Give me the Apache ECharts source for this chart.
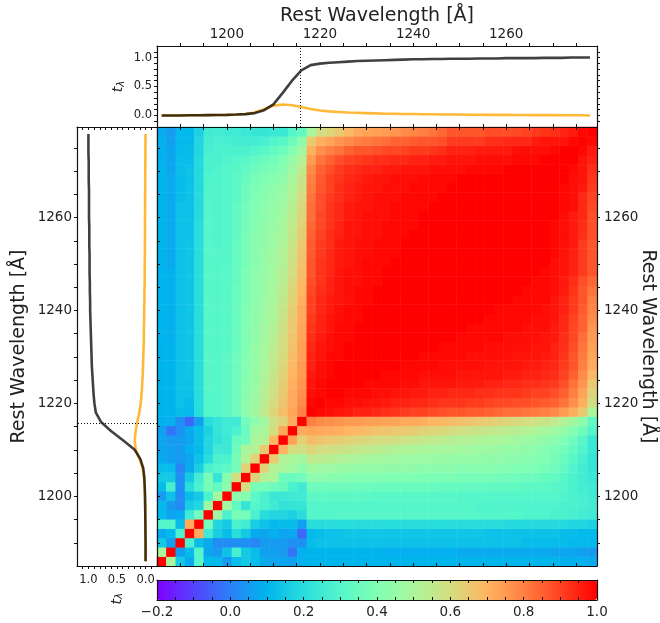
<!DOCTYPE html>
<html><head><meta charset="utf-8">
<style>html,body{margin:0;padding:0;background:#fff}#c{width:660px;height:623px}</style>
<script src="https://cdn.jsdelivr.net/npm/echarts@6/dist/echarts.min.js"></script>
</head><body><div id="c"></div>
<script>
// Pixel wavelengths (Angstrom), one per row/column of the matrix
const waves = [1186,1188,1190,1192,1194,1196,1198,1200,1202,1204,1206,1208,1210,1212,1214,1216,1218,1220,1222,1224,1226,1228,1230,1232,1234,1236,1238,1240,1242,1244,1246,1248,1250,1252,1254,1256,1258,1260,1262,1264,1266,1268,1270,1272,1274,1276,1278];
// Mean transmission and its companion curve at each wavelength
const meanCurve = [0,0,0,.002,.003,.005,.007,.01,.015,.022,.04,.09,.19,.39,.6,.78,.87,.895,.91,.92,.93,.94,.945,.95,.955,.96,.965,.97,.97,.975,.975,.98,.98,.98,.985,.985,.985,.99,.99,.99,.99,.995,.995,.995,1,1,1];
const orangeCurve = [0,0,0,.002,.003,.005,.007,.01,.015,.025,.05,.105,.17,.19,.175,.145,.11,.085,.07,.06,.05,.045,.04,.035,.03,.03,.025,.025,.02,.02,.015,.015,.015,.012,.012,.01,.01,.01,.008,.008,.006,.006,.005,.004,.003,.002,0];
const lyaLine = 1215.67;
// Correlation matrix in percent (symmetric). lowerBlock: rows 0..15, columns 0..row
const lowerBlock = [
[100],
[50,100],
[15,6,100],
[8,11,28,100],
[30,30,12,72,100],
[11,7,8,25,37,100],
[11,5,2,16,18,47,100],
[5,13,2,12,15,28,48,100],
[12,27,3,20,28,38,33,43,100],
[15,15,3,15,26,38,23,42,60,100],
[12,12,1,8,16,28,30,32,38,63,100],
[8,6,5,7,13,20,28,28,38,52,63,100],
[7,6,5,9,11,18,25,24,36,50,52,65,100],
[7,5,5,7,12,18,22,24,34,36,50,52,70,100],
[6,-2,3,8,12,17,23,25,28,35,48,50,60,73,100],
[9,9,3,-4,6,20,23,25,25,37,43,48,59,63,72,100]];
// crossBlock: rows 0..15, columns 16..46
const crossBlock = [
[10,10,10,10,10,10,10,10,10,10,10,10,10,10,10,10,10,10,10,10,10,10,10,10,10,10,10,9,9,9,8],
[10,10,10,10,10,10,10,10,9,9,9,9,9,9,9,9,8,8,8,8,8,8,8,8,8,8,7,7,7,6,5],
[12,13,13,13,13,13,13,13,13,13,13,13,13,13,13,13,13,13,13,13,13,13,13,12,12,12,12,12,11,11,11],
[11,12,13,13,14,14,14,14,14,14,14,14,14,14,14,14,14,14,14,13,13,13,13,13,13,13,13,12,12,11,11],
[20,20,20,20,20,20,20,20,20,20,20,20,20,20,20,20,20,20,20,20,20,19,19,19,19,19,19,19,18,18,17],
[30,30,30,31,31,31,31,31,31,31,31,31,31,31,31,31,31,31,30,30,30,30,30,29,29,29,28,28,27,26,25],
[30,30,30,30,30,30,30,30,30,30,30,30,30,30,30,30,30,30,29,29,29,29,29,29,29,29,29,28,28,27,26],
[32,32,32,32,32,32,32,31,31,31,31,31,31,31,31,31,30,30,30,30,30,30,30,30,30,30,30,29,28,27,25],
[36,36,36,36,36,36,36,35,35,35,35,35,35,35,34,34,34,34,34,33,33,33,33,32,32,32,31,30,28,26,25],
[43,43,42,42,41,41,41,40,40,40,40,40,39,39,39,39,38,38,38,38,37,37,37,36,36,34,33,31,28,26,24],
[48,47,47,46,46,45,45,45,44,44,44,44,43,43,43,43,42,42,42,42,41,41,40,40,39,38,36,33,29,26,23],
[55,54,53,52,51,50,49,49,48,48,47,47,47,46,46,45,45,45,44,44,44,43,43,42,41,40,38,35,31,27,23],
[62,60,59,58,57,56,55,54,53,52,51,51,50,50,49,49,48,48,47,47,46,45,45,44,43,41,39,37,33,29,24],
[68,66,65,64,63,62,61,60,60,59,58,57,56,55,54,53,52,52,51,50,50,49,48,47,46,44,42,40,36,31,24],
[73,72,72,71,70,69,68,67,66,65,65,64,63,62,61,60,59,58,57,56,55,54,53,52,51,49,47,45,41,36,30],
[80,78,77,76,75,75,74,74,73,73,72,72,71,70,69,68,67,66,65,64,63,62,61,60,58,57,55,52,48,43,33]];
// upperBlock: rows 16..46, columns 16..row
const upperBlock = [
[100],
[99,100],
[98,99,100],
[97,99,100,100],
[96,98,99,100,100],
[95,98,99,100,100,100],
[95,97,99,99,100,100,100],
[94,97,98,99,100,100,100,100],
[93,96,98,99,99,100,100,100,100],
[92,95,97,99,99,100,100,100,100,100],
[91,95,97,98,99,99,100,100,100,100,100],
[90,94,96,98,99,99,100,100,100,100,100,100],
[90,94,96,97,98,99,99,100,100,100,100,100,100],
[89,93,95,97,98,99,99,100,100,100,100,100,100,100],
[88,92,95,97,98,98,99,99,100,100,100,100,100,100,100],
[87,92,94,97,98,98,99,99,100,100,100,100,100,100,100,100],
[87,92,94,96,97,98,99,99,99,100,100,100,100,100,100,100,100],
[86,91,94,96,97,98,98,99,99,99,100,100,100,100,100,100,100,100],
[86,91,93,96,97,98,98,99,99,99,100,100,100,100,100,100,100,100,100],
[85,90,93,95,97,97,98,98,99,99,99,100,100,100,100,100,100,100,100,100],
[84,89,92,95,97,97,98,98,99,99,99,99,100,100,100,100,100,100,100,100,100],
[83,89,92,94,96,97,98,98,98,99,99,99,100,100,100,100,100,100,100,100,100,100],
[83,88,92,94,96,97,97,98,98,99,99,99,99,100,100,100,100,100,100,100,100,100,100],
[82,88,91,93,95,96,97,98,98,98,99,99,99,99,100,100,100,100,100,100,100,100,100,100],
[81,87,90,93,95,96,97,97,98,98,98,99,99,99,99,100,100,100,100,100,100,100,100,100,100],
[80,86,90,92,94,95,96,97,97,98,98,98,99,99,99,99,100,100,100,100,100,100,100,100,100,100],
[78,85,88,91,93,94,95,95,96,96,97,97,97,98,98,98,98,99,99,99,99,100,100,100,100,100,100],
[75,82,85,88,90,91,92,93,93,94,94,95,95,96,96,97,97,97,98,98,98,98,99,99,99,100,100,100],
[71,77,80,82,85,87,87,88,89,89,90,91,91,92,93,95,95,95,96,96,96,96,98,98,98,98,99,100,100],
[65,71,73,76,78,80,81,82,83,85,85,86,87,87,88,91,91,91,91,93,93,94,94,94,96,97,97,97,99,100],
[50,59,62,65,69,72,73,74,75,76,78,79,80,82,84,87,87,87,87,88,88,88,89,90,91,92,93,95,96,99,100]];
// Tick values and labels
const waveTicks = [1190,1195,1200,1205,1210,1215,1220,1225,1230,1235,1240,1245,1250,1255,1260,1265,1270,1275];
const waveLabels = [1200,1220,1240,1260];
const tauTicks = [-.1,0,.1,.2,.3,.4,.5,.6,.7,.8,.9,1,1.1];
const tauLabels = [0,.5,1];
const barTicks = [-.15,-.1,-.05,0,.05,.1,.15,.2,.25,.3,.35,.4,.45,.5,.55,.6,.65,.7,.75,.8,.85,.9,.95];
const barLabels = [-.2,0,.2,.4,.6,.8,1];
// matplotlib "rainbow" colormap sampled each 0.1 between -0.2 and 1.0
const rainbow = ['#7f00ff','#5542fd','#2b80f6','#00b5ec','#2adddd','#55f6ca','#80ffb4','#aaf69b','#d4dd80','#ffb562','#ff8042','#ff4221','#ff0000'];

function cellValue(a,b){
  const lo=Math.min(a,b), hi=Math.max(a,b);
  if(hi<=15) return lowerBlock[hi][lo];
  if(lo>=16) return upperBlock[hi-16][lo-16];
  return crossBlock[lo][hi-16];
}
const heatData=[];
waves.forEach((_,x)=>waves.forEach((_,y)=>heatData.push([x,y,cellValue(x,y)/100])));

const FONT='DejaVu Sans', INK='#222', WMIN=1185, WMAX=1279.5;
const TITLE=19, TICK=13.5, SMALL=11.5;
const line={lineStyle:{color:'#111',width:1.2}};
function axis(o){
  return Object.assign({
    z:6, axisLine:Object.assign({show:true,onZero:false},line),
    splitLine:{show:false},
    nameMoveOverlap:false,
    nameTextStyle:{fontFamily:FONT,color:INK,fontSize:TITLE},
    silent:true
  },o);
}
function ticks(vals,inside,len){return {show:true,inside:!!inside,length:len||3,customValues:vals,lineStyle:{color:'#111',width:1}};}
function labels(vals,size,margin,fmt,pad){
  if(!vals) return {show:false};
  return {show:true,customValues:vals,fontFamily:FONT,color:INK,fontSize:size,margin:margin,padding:pad||0,formatter:fmt||(v=>String(v)),hideOverlap:false,showMinLabel:true,showMaxLabel:true};
}
const wave=o=>axis(Object.assign({type:'value',min:WMIN,max:WMAX},o));
const tau=o=>axis(Object.assign({type:'value',min:-.2,max:1.2},o));
const tFmt=v=>v.toFixed(1);
const tName='{t|t}{l|λ}';
const tRich={t:{fontFamily:FONT,fontStyle:'italic',fontSize:14,color:INK},l:{fontFamily:FONT,fontStyle:'italic',fontSize:10,color:INK,padding:[5,0,0,0]}};
const curve={type:'line',symbol:'none',silent:true,smooth:false,z:3};
const dotted={silent:true,symbol:'none',animation:false,label:{show:false},lineStyle:{color:'#111',type:[1,2],width:1}};
const G={outerBoundsMode:'none'};
const DOWN=[6,0,0,0];

const option={
  animation:false,
  backgroundColor:'#fff',
  grid:[
    Object.assign({left:157,top:127,width:440,height:439},G),
    Object.assign({left:157,top:127,width:440,height:439},G),
    Object.assign({left:157,top:46,width:440,height:81},G),
    Object.assign({left:77,top:127,width:80,height:439},G),
    Object.assign({left:157,top:580,width:440,height:20},G)
  ],
  xAxis:[
    {gridIndex:0,type:'category',data:waves,show:false},
    wave({gridIndex:1,position:'bottom',axisTick:ticks(waveTicks,true),axisLabel:labels(null)}),
    wave({gridIndex:1,position:'top',axisTick:ticks(waveTicks,true),axisLabel:labels(null)}),
    wave({gridIndex:2,position:'top',name:'Rest Wavelength [Å]',nameLocation:'middle',nameGap:20,axisTick:ticks(waveTicks,false),axisLabel:labels(waveLabels,TICK,5)}),
    wave({gridIndex:2,position:'bottom',axisTick:ticks(waveTicks,true),axisLabel:labels(null)}),
    tau({gridIndex:3,position:'bottom',inverse:true,name:tName,nameLocation:'middle',nameGap:27,nameRotate:90,nameTextStyle:{rich:tRich},axisTick:ticks(tauTicks,false),axisLabel:labels(tauLabels,SMALL,8,tFmt)}),
    tau({gridIndex:3,position:'top',inverse:true,axisTick:ticks(tauTicks,true),axisLabel:labels(null)}),
    axis({gridIndex:4,type:'value',position:'bottom',min:-.2,max:1,axisTick:ticks(barTicks,true),axisLabel:labels(barLabels,TICK,5,v=>(v<0?'−':'')+Math.abs(v).toFixed(1))}),
    axis({gridIndex:4,type:'value',position:'top',min:-.2,max:1,axisTick:ticks(barTicks,true),axisLabel:labels(null)})
  ],
  yAxis:[
    {gridIndex:0,type:'category',data:waves,show:false},
    wave({gridIndex:1,position:'left',axisTick:ticks(waveTicks,true),axisLabel:labels(null)}),
    wave({gridIndex:1,position:'right',name:'Rest Wavelength [Å]',nameLocation:'middle',nameGap:41,nameRotate:-90,axisTick:ticks(waveTicks,false),axisLabel:labels(waveLabels,TICK,7,null,DOWN)}),
    tau({gridIndex:2,position:'left',name:tName,nameLocation:'middle',nameGap:31,nameRotate:90,nameTextStyle:{rich:tRich},axisTick:ticks(tauTicks,false),axisLabel:labels(tauLabels,SMALL,5,tFmt,DOWN)}),
    tau({gridIndex:2,position:'right',axisTick:ticks(tauTicks,false),axisLabel:labels(null)}),
    wave({gridIndex:3,position:'left',name:'Rest Wavelength [Å]',nameLocation:'middle',nameGap:48,axisTick:ticks(waveTicks,false),axisLabel:labels(waveLabels,TICK,5,null,DOWN)}),
    wave({gridIndex:3,position:'right',axisLine:{show:false},axisTick:{show:false},axisLabel:labels(null)}),
    axis({gridIndex:4,type:'value',position:'left',min:0,max:1,axisTick:{show:false},axisLabel:labels(null)}),
    axis({gridIndex:4,type:'value',position:'right',min:0,max:1,axisTick:{show:false},axisLabel:labels(null)})
  ],
  visualMap:{
    type:'continuous',seriesIndex:0,dimension:2,min:-.2,max:1,orient:'horizontal',
    left:157,top:580,itemWidth:20,itemHeight:440,padding:0,
    calculable:false,showLabel:false,hoverLink:false,realtime:false,
    inRange:{color:rainbow}
  },
  series:[
    {type:'heatmap',xAxisIndex:0,yAxisIndex:0,data:heatData,progressive:0,silent:true,emphasis:{disabled:true}},
    Object.assign({},curve,{name:'orange top',xAxisIndex:3,yAxisIndex:3,data:waves.map((w,i)=>[w,orangeCurve[i]]),lineStyle:{color:'#ffa500',width:2.6,opacity:.78}}),
    Object.assign({},curve,{name:'mean top',xAxisIndex:3,yAxisIndex:3,data:waves.map((w,i)=>[w,meanCurve[i]]),lineStyle:{color:'#000',width:2.6,opacity:.75},
      markLine:Object.assign({data:[{xAxis:lyaLine}]},dotted)}),
    Object.assign({},curve,{name:'orange left',xAxisIndex:5,yAxisIndex:5,data:waves.map((w,i)=>[orangeCurve[i],w]),lineStyle:{color:'#ffa500',width:2.6,opacity:.78}}),
    Object.assign({},curve,{name:'mean left',xAxisIndex:5,yAxisIndex:5,data:waves.map((w,i)=>[meanCurve[i],w]),lineStyle:{color:'#000',width:2.6,opacity:.75},
      markLine:Object.assign({data:[{yAxis:lyaLine}]},dotted)})
  ]
};
const chart=echarts.init(document.getElementById('c'),null,{renderer:'canvas'});
chart.setOption(option);
</script></body></html>
